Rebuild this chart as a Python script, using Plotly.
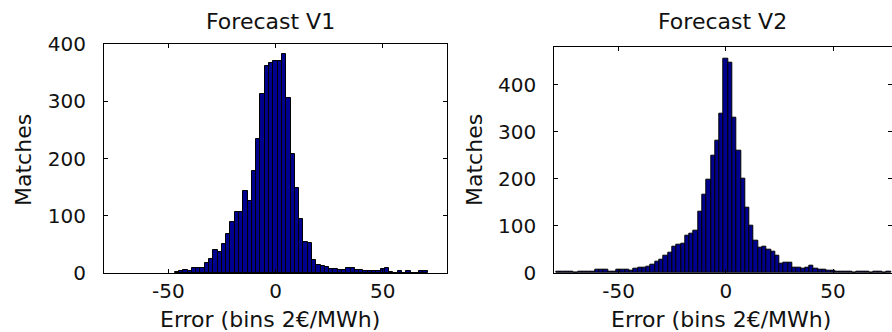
import plotly.graph_objects as go

# ---- data (bin centres in €/MWh, bin width 2) ----
v1_centers = list(range(-46, 72, 2))
v1_counts = [2, 4, 6, 4, 9, 9, 9, 17, 25, 40, 36, 51, 68, 89, 107, 107, 143, 126, 178, 234,
             312, 362, 366, 370, 371, 382, 305, 208, 149, 95, 55, 52, 23, 14, 12, 11, 7, 7, 6, 5,
             8, 8, 5, 5, 3, 4, 3, 3, 7, 8, 1, 0, 3, 0, 3, 0, 0, 3, 3]

v2_centers = list(range(-78, 78, 2))
v2_counts = [3, 3, 3, 3, 1, 3, 3, 3, 3, 7, 7, 6, 3, 3, 6, 6, 6, 5, 10, 12,
             12, 13, 17, 23, 28, 37, 43, 56, 60, 63, 80, 83, 90, 130, 167, 198, 250, 282, 338, 455,
             448, 330, 260, 200, 138, 100, 68, 53, 56, 49, 45, 36, 19, 22, 22, 12, 11, 10, 12, 15,
             9, 7, 6, 5, 4, 3, 2, 2, 2, 1, 2, 2, 2, 1, 2, 2, 1, 2]

x_ticks = [-50, 0, 50]
x_tick_labels = ["-50", "0", "50"]
y_ticks = [0, 100, 200, 300, 400]
y_tick_labels = ["0", "100", "200", "300", "400"]
titles = ["Forecast V1", "Forecast V2"]
x_label = "Error (bins 2€/MWh)"
y_label = "Matches"

W, H = 892, 332
FONT = "DejaVu Sans"
BAR = "rgb(0,0,143)"

fig = go.Figure()
fig.add_trace(go.Bar(x=v1_centers[:len(v1_counts)], y=v1_counts, width=2,
                     marker=dict(color=BAR, line=dict(color="black", width=1)),
                     xaxis="x", yaxis="y", showlegend=False))
fig.add_trace(go.Bar(x=v2_centers[:len(v2_counts)], y=v2_counts, width=2,
                     marker=dict(color=BAR, line=dict(color="black", width=1)),
                     xaxis="x2", yaxis="y2", showlegend=False))

tickfont = dict(family=FONT, size=20, color="#111")
common_x = dict(tickmode="array", tickvals=x_ticks, ticktext=x_tick_labels,
                ticks="inside", ticklen=4,
                tickcolor="black", showline=True, linecolor="black", linewidth=1,
                mirror="ticks", showgrid=False, zeroline=False, tickfont=tickfont,
                ticklabelstandoff=0, automargin=False)
common_y = dict(tickmode="array", tickvals=y_ticks, ticktext=y_tick_labels,
                ticks="inside", ticklen=4,
                tickcolor="black", showline=True, linecolor="black", linewidth=1,
                mirror="ticks", showgrid=False, zeroline=False, tickfont=tickfont,
                ticklabelstandoff=13, automargin=False)

fig.update_layout(
    width=W, height=H, autosize=False,
    margin=dict(l=0, r=0, t=0, b=0, pad=0, autoexpand=False),
    paper_bgcolor="white", plot_bgcolor="white",
    bargap=0,
    font=dict(family=FONT, color="#111"),
    xaxis=dict(domain=[104 / W, 447 / W], range=[-80, 80], anchor="y", **common_x),
    yaxis=dict(domain=[59 / H, 288 / H], range=[0, 400], anchor="x", **common_y),
    xaxis2=dict(domain=[554.3 / W, 1.0], range=[-80, 77.5], anchor="y2", **common_x),
    yaxis2=dict(domain=[59 / H, (H - 46.7) / H], range=[0, 481], anchor="x2", **common_y),
)

lab = dict(family=FONT, size=22, color="#111")
ann = [
    dict(text=titles[0], x=270.5 / W, y=1 - 21.7 / H),
    dict(text=titles[1], x=722 / W, y=1 - 21.7 / H),
    dict(text=x_label, x=270 / W, y=1 - 319 / H),
    dict(text=x_label, x=721 / W, y=1 - 319 / H),
    dict(text=y_label, x=23 / W, y=1 - 160 / H, textangle=-90),
    dict(text=y_label, x=474 / W, y=1 - 160 / H, textangle=-90),
]
for a in ann:
    fig.add_annotation(xref="paper", yref="paper", xanchor="center", yanchor="middle",
                       showarrow=False, font=lab, **a)

fig.write_html(
    "out.html",
    config={"displayModeBar": False},
    post_script="document.body.style.margin='0';document.body.style.overflow='hidden';",
)
